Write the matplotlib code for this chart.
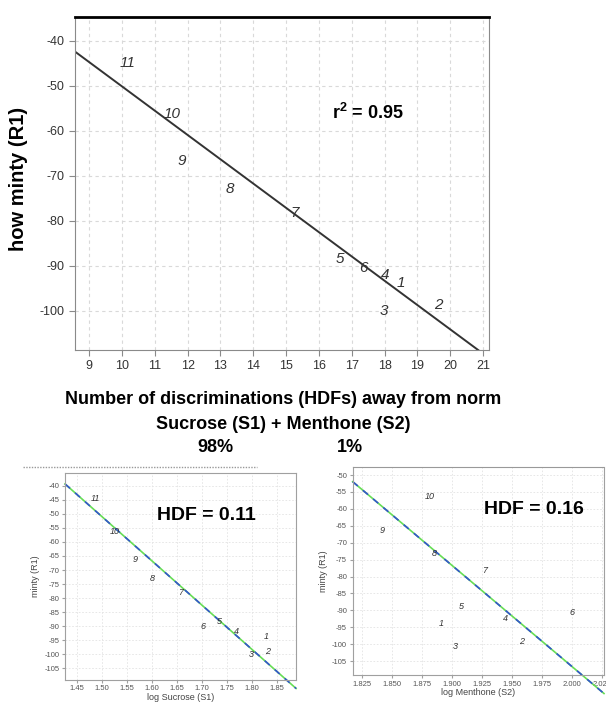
import numpy as np
import matplotlib.pyplot as plt
from matplotlib.lines import Line2D

plt.rcParams['font.family'] = ['Liberation Sans', 'DejaVu Sans']
plt.rcParams['mathtext.fontset'] = 'custom'
plt.rcParams['mathtext.bf'] = 'Liberation Sans:bold'
plt.rcParams['mathtext.rm'] = 'Liberation Sans'
plt.rcParams['axes.unicode_minus'] = False

# main chart: HDFs vs minty rating
labels = ['1', '2', '3', '4', '5', '6', '7', '8', '9', '10', '11']
hdf_x = [18.48, 19.65, 17.99, 18.02, 16.65, 17.36, 15.25, 13.28, 11.83, 11.52, 10.18]
hdf_y = [-93.8, -98.7, -100.1, -92.0, -88.5, -90.4, -78.2, -73.0, -66.6, -56.3, -44.96]
hdf_fit = [-5.4, 3.88]  # slope, intercept

# small chart 1: log sucrose
suc_x = [1.828, 1.832, 1.798, 1.769, 1.734, 1.7015, 1.658, 1.6004, 1.5657, 1.5256, 1.4855]
suc_y = [-93.6, -98.9, -100.3, -92.1, -88.4, -90.3, -77.9, -72.9, -66.3, -56.1, -44.6]
suc_fit = [-157.4, 185.04]

# small chart 2: log menthone (no point 11)
men_labels = ['1', '2', '3', '4', '5', '6', '7', '8', '9', '10']
men_x = [1.8917, 1.9583, 1.9028, 1.9444, 1.9083, 2.0, 1.927, 1.8855, 1.8417, 1.8819]
men_y = [-93.9, -99.3, -100.6, -92.4, -88.8, -90.6, -78.1, -73.2, -66.3, -56.2]
men_fit = [-299.0, 491.46]

fig = plt.figure(figsize=(6.06, 7.02), dpi=100)

# ---- main plot
ax = fig.add_axes([0.1238, 0.5014, 0.6832, 0.4744])
ax.set_xlim(8.57, 21.18)
ax.set_ylim(-108.7, -34.7)
ax.set_xticks(range(9, 22))
ax.set_yticks(range(-100, -39, 10))
ax.grid(True, color='#d9d9d9', linestyle=(0, (3, 3)), linewidth=0.8)
ax.set_axisbelow(True)
for s in ['left', 'right', 'bottom']:
    ax.spines[s].set_color('#8a8a8a')
ax.spines['top'].set_color('black')
ax.spines['top'].set_linewidth(2)
ax.tick_params(axis='both', colors='#8a8a8a', labelcolor='#333333', labelsize=9, length=4)
xx = np.array([8.57, 21.3])
ax.plot(xx, hdf_fit[0] * xx + hdf_fit[1], color='#333333', lw=1.4)
for t, x, y in zip(labels, hdf_x, hdf_y):
    ax.text(x, y, t, style='italic', fontsize=11, color='#333333', ha='center', va='center')
ax.text(16.4, -56, r'$\mathbf{r^{2}}$' + ' = 0.95', fontsize=13, fontweight='bold', va='center')
fig.text(19 / 606, 1 - 179 / 702, 'how minty (R1)', rotation=90, fontsize=14.5,
         fontweight='bold', ha='center', va='center')

fig.text(0.468, 0.4302, 'Number of discriminations (HDFs) away from norm',
         ha='center', va='center', fontsize=13, fontweight='bold')
fig.text(0.467, 0.396, 'Sucrose (S1) + Menthone (S2)',
         ha='center', va='center', fontsize=13, fontweight='bold')
fig.text(0.355, 0.3632, '98%', ha='center', va='center', fontsize=13, fontweight='bold')
fig.text(0.5776, 0.3632, '1%', ha='center', va='center', fontsize=13, fontweight='bold')

# dotted header line above the left small chart
fig.add_artist(Line2D([23 / 606, 257 / 606], [1 - 467 / 702] * 2, color='#999999',
                      lw=1, linestyle=(0, (1, 1))))


def small(rect, xs, ys, labs, fit, xlim, ylim, xt, yt, fmt, xlab, hdf, hx, hy, xend):
    a = fig.add_axes(rect)
    a.set_xlim(*xlim)
    a.set_ylim(*ylim)
    a.set_xticks(xt)
    a.set_xticklabels([fmt.format(v) for v in xt])
    a.set_yticks(yt)
    a.grid(True, color='#e3e3e3', linestyle=(0, (2, 2)), linewidth=0.6)
    a.set_axisbelow(True)
    for s in a.spines.values():
        s.set_color('#a0a0a0')
        s.set_linewidth(0.8)
    a.tick_params(axis='both', colors='#a0a0a0', labelcolor='#555555', labelsize=5.5, length=2, pad=2)
    x = np.array([xlim[0], xend])
    a.plot(x, fit[0] * x + fit[1], color='#66dd55', lw=1.2, clip_on=False)
    a.plot(x, fit[0] * x + fit[1], color='#3355cc', lw=1.2, linestyle=(0, (4, 4)), clip_on=False)
    for t, px, py in zip(labs, xs, ys):
        a.text(px, py, t, style='italic', fontsize=6.5, color='#333333', ha='center', va='center')
    a.text(hx, hy, hdf, fontsize=14, fontweight='bold', va='center')
    a.set_xlabel(xlab, fontsize=6.5, color='#444444', labelpad=0.5)
    a.set_ylabel('minty (R1)', fontsize=6.5, color='#444444', labelpad=3)
    return a


a1 = small([0.1073, 0.0315, 0.3812, 0.2943], suc_x, suc_y, labels, suc_fit,
           (1.4253, 1.8887), (-109.2, -35.5), np.arange(1.45, 1.851, 0.05),
           range(-105, -39, 5), '{:.2f}', 'log Sucrose (S1)', 'HDF = 0.11', 1.609, -50.5, 1.8888)

a2 = small([0.582, 0.0385, 0.4147, 0.2959], men_x, men_y, men_labels, men_fit,
           (1.8175, 2.0269), (-109.1, -47.7), np.arange(1.825, 2.026, 0.025),
           range(-105, -49, 5), '{:.3f}', 'log Menthone (S2)', 'HDF = 0.16', 1.9265, -60.3, 2.0269)
a2.spines['top'].set_linestyle((0, (1, 1)))
a2.spines['top'].set_color('#999999')

fig.savefig('out.png', dpi=100)
